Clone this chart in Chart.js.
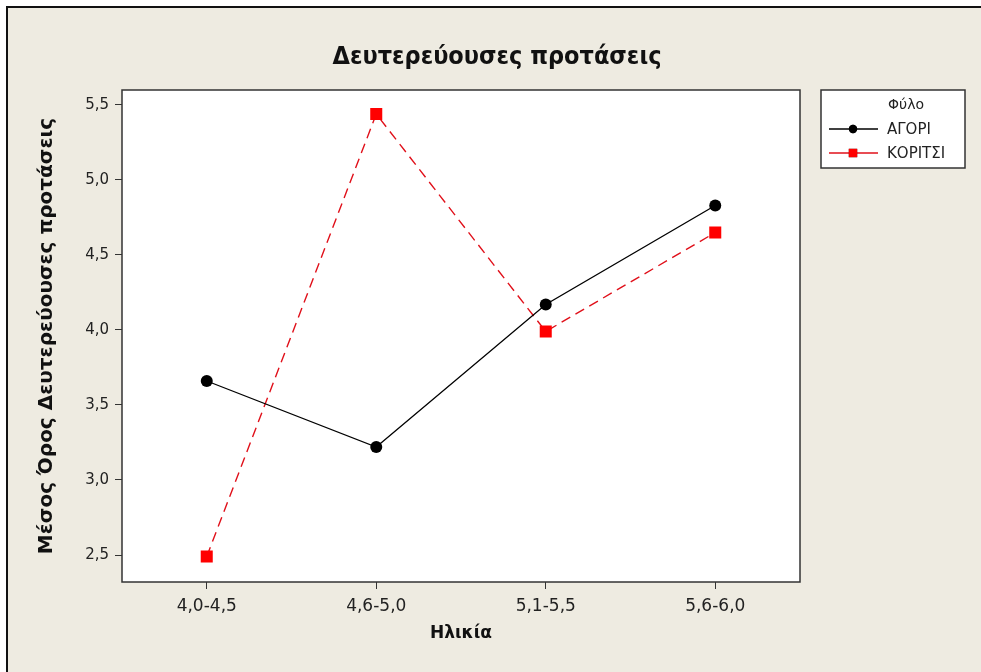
<!DOCTYPE html>
<html>
<head>
<meta charset="utf-8">
<script src="https://cdn.jsdelivr.net/npm/chart.js@4.4.0/dist/chart.umd.min.js"></script>
<style>
  body { margin: 0; background: #ffffff; }
  canvas { display: block; }
</style>
</head>
<body>
<canvas id="chart" width="981" height="672"></canvas>
<script>
// data
var ageGroups = ["4,0-4,5", "4,6-5,0", "5,1-5,5", "5,6-6,0"];
var boysMeans = [3.66, 3.22, 4.17, 4.83];
var girlsMeans = [2.49, 5.44, 3.99, 4.65];
var yTicks = [2.5, 3.0, 3.5, 4.0, 4.5, 5.0, 5.5];
var seriesNames = ["ΑΓΟΡΙ", "ΚΟΡΙΤΣΙ"];
var chartTitle = "Δευτερεύουσες προτάσεις";
var legendTitle = "Φύλο";
var xTitle = "Ηλικία";
var yTitle = "Μέσος Όρος Δευτερεύουσες προτάσεις";

var bgColor = "#eeebe1";

// background, plot frame, title and the Minitab style legend box
var minitabLook = {
    id: "minitabLook",
    beforeDraw: function(chart) {
        var ctx = chart.ctx;
        var a = chart.chartArea;
        ctx.save();
        ctx.fillStyle = "#ffffff";
        ctx.fillRect(0, 0, chart.width, chart.height);
        ctx.fillStyle = bgColor;
        ctx.fillRect(7, 7, chart.width - 7, chart.height - 7);
        ctx.strokeStyle = "#111";
        ctx.lineWidth = 2;
        ctx.beginPath();
        ctx.moveTo(7, chart.height);
        ctx.lineTo(7, 7);
        ctx.lineTo(chart.width, 7);
        ctx.stroke();
        ctx.fillStyle = "#ffffff";
        ctx.fillRect(a.left, a.top, a.right - a.left, a.bottom - a.top);

        ctx.fillStyle = "#111";
        ctx.font = "bold 25px 'DejaVu Sans Condensed', 'DejaVu Sans'";
        ctx.textAlign = "center";
        ctx.textBaseline = "middle";
        ctx.fillText(chartTitle, (a.left + a.right) / 2 + 36, 57);
        ctx.restore();
    },
    afterDraw: function(chart) {
        var ctx = chart.ctx;
        var a = chart.chartArea;
        ctx.save();
        ctx.strokeStyle = "#333";
        ctx.lineWidth = 1.5;
        ctx.strokeRect(a.left, a.top, a.right - a.left, a.bottom - a.top);

        // legend
        var lx = 821, ly = 90, lw = 144, lh = 78;
        ctx.fillStyle = "#ffffff";
        ctx.fillRect(lx, ly, lw, lh);
        ctx.strokeStyle = "#333";
        ctx.lineWidth = 1.5;
        ctx.strokeRect(lx, ly, lw, lh);
        ctx.fillStyle = "#222";
        ctx.font = "14px 'DejaVu Sans'";
        ctx.textAlign = "center";
        ctx.textBaseline = "middle";
        ctx.fillText(legendTitle, 906, 105);
        ctx.font = "15px 'DejaVu Sans'";
        ctx.textAlign = "left";
        chart.data.datasets.forEach(function(ds, i) {
            var y = 129 + i * 24;
            ctx.strokeStyle = ds.borderColor;
            ctx.lineWidth = 1.3;
            ctx.setLineDash([]);
            ctx.beginPath();
            ctx.moveTo(829, y);
            ctx.lineTo(878, y);
            ctx.stroke();
            Chart.helpers.drawPoint(ctx, {
                pointStyle: ds.pointStyle,
                radius: ds.pointRadius * 0.7,
                borderWidth: 0
            }, 853, y);
            ctx.fillStyle = ds.pointBackgroundColor;
            ctx.fill();
            ctx.fillStyle = "#222";
            ctx.fillText(ds.label, 887, y + 1);
        });
        ctx.restore();
    }
};

var ctx = document.getElementById("chart").getContext("2d");
var myChart = new Chart(ctx, {
    type: "line",
    data: {
        labels: ageGroups,
        datasets: [{
            label: seriesNames[0],
            data: boysMeans,
            borderColor: "#000000",
            borderWidth: 1.3,
            pointStyle: "circle",
            pointRadius: 6,
            pointBackgroundColor: "#000000",
            pointBorderWidth: 0
        }, {
            label: seriesNames[1],
            data: girlsMeans,
            borderColor: "#e0101a",
            borderWidth: 1.4,
            borderDash: [10, 6],
            pointStyle: "rect",
            pointRadius: 8.5,
            pointBackgroundColor: "#ff0000",
            pointBorderWidth: 0
        }]
    },
    options: {
        responsive: false,
        animation: false,
        layout: { padding: { top: 90, right: 181, bottom: 0, left: 0 } },
        plugins: {
            legend: { display: false },
            tooltip: { enabled: false }
        },
        scales: {
            x: {
                offset: true,
                grid: { offset: false, drawOnChartArea: false, tickLength: 7, color: "#333" },
                border: { display: false },
                ticks: { color: "#222", font: { family: "DejaVu Sans", size: 17 }, padding: 7 },
                title: {
                    display: true,
                    text: xTitle,
                    color: "#111",
                    font: { family: "DejaVu Sans", size: 17, weight: "bold" },
                    padding: { top: 0, bottom: 28 }
                },
                afterFit: function(scale) { scale.height = 90; }
            },
            y: {
                min: 2.32,
                max: 5.6,
                grid: { drawOnChartArea: false, tickLength: 7, color: "#333" },
                border: { display: false },
                ticks: {
                    color: "#222",
                    font: { family: "DejaVu Sans", size: 15 },
                    padding: 6,
                    callback: function(v) { return v.toFixed(1).replace(".", ","); }
                },
                afterBuildTicks: function(scale) {
                    scale.ticks = yTicks.map(function(v) { return { value: v }; });
                },
                title: {
                    display: true,
                    text: yTitle,
                    color: "#111",
                    font: { family: "DejaVu Sans", size: 20, weight: "bold" },
                    padding: { top: 35, bottom: 0 }
                },
                afterFit: function(scale) { scale.width = 122; }
            }
        }
    },
    plugins: [minitabLook]
});
</script>
</body>
</html>
